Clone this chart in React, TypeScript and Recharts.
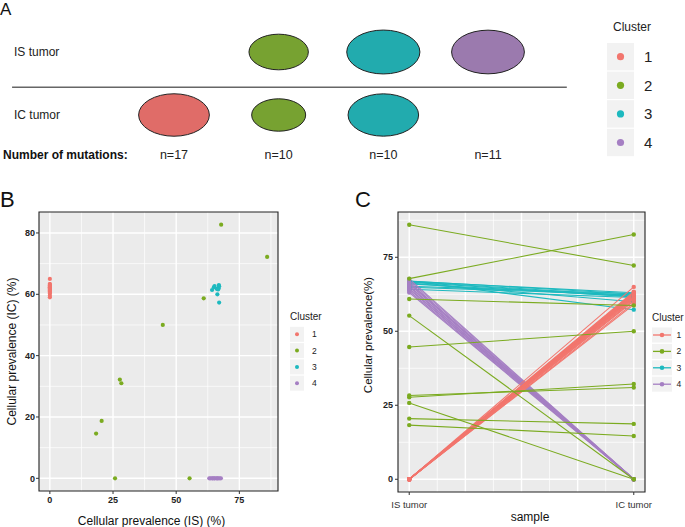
import React from 'react';
import {
  ScatterChart,
  Scatter,
  LineChart,
  Line,
  XAxis,
  YAxis,
  CartesianGrid,
  ReferenceLine,
  ReferenceArea,
  Legend,
} from 'recharts';

const FONT = '"Liberation Sans", Arial, Helvetica, sans-serif';

const CLUSTERS = ['1', '2', '3', '4'];
const SAMPLES = ['IS tumor', 'IC tumor'];
const COLORS = ['#F2766E', '#7BAB20', '#1DB9BF', '#A57FC3'];
const FILLS = ['#E06C68', '#77A231', '#22ABAE', '#9B7AAE'];

// cellular prevalence (%) of every mutation in the IS and the IC tumor, per cluster
const C1_IS = [0, 0, 0, 0, 0, 0, 0, 0, 0, 0, 0, 0, 0, 0, 0, 0, 0];
const C1_IC = [65.0, 63.4, 63.1, 62.9, 62.7, 62.5, 62.3, 62.1, 61.9, 61.7, 61.5, 61.2, 60.9, 60.5, 60.2, 59.5, 59.0];
const C2_IS = [86.0, 67.8, 60.9, 55.3, 44.7, 27.7, 28.3, 25.8, 20.5, 18.3];
const C2_IC = [72.2, 82.7, 58.7, 0, 50.0, 32.2, 31.0, 0, 18.7, 14.6];
const C3_IS = [64.2, 64.9, 65.2, 66.9, 67.0, 66.8, 66.6, 66.3, 67.0, 66.0];
const C3_IC = [61.4, 62.3, 62.7, 63.0, 62.6, 62.0, 61.6, 60.0, 57.3, 61.8];
const C4_IS = [63.1, 63.6, 64.2, 64.5, 65.0, 65.3, 65.9, 66.3, 66.6, 67.2, 67.7];
const C4_IC = [0, 0, 0, 0, 0, 0, 0, 0, 0, 0, 0];

const IS_BY_CLUSTER = [C1_IS, C2_IS, C3_IS, C4_IS];
const IC_BY_CLUSTER = [C1_IC, C2_IC, C3_IC, C4_IC];

const B_X_TICKS = [0, 25, 50, 75];
const B_Y_TICKS = [0, 20, 40, 60, 80];
const C_Y_TICKS = [0, 25, 50, 75];

// ---- derived ----
const mean = (a: number[]) => a.reduce((s, v) => s + v, 0) / a.length;
const expand = (lo: number, hi: number): [number, number] => [lo - (hi - lo) * 0.05, hi + (hi - lo) * 0.05];
const mids = (t: number[]) => {
  const step = t[1] - t[0];
  return t.map((v) => v + step / 2);
};

const POINTS = IS_BY_CLUSTER.map((isArr, ci) => isArr.map((is, k) => ({ is, ic: IC_BY_CLUSTER[ci][k] })));
const COUNTS = IS_BY_CLUSTER.map((a) => a.length);

const ELLIPSES: { col: number; row: number; mean: number; ci: number }[] = [];
CLUSTERS.forEach((_, ci) => {
  [IS_BY_CLUSTER[ci], IC_BY_CLUSTER[ci]].forEach((arr, si) => {
    const m = mean(arr);
    if (m > 0) ELLIPSES.push({ col: ci + 1, row: si === 0 ? 1 : 0, mean: m, ci });
  });
});

const ALL_IS = IS_BY_CLUSTER.flat();
const ALL_IC = IC_BY_CLUSTER.flat();
const B_X_DOMAIN = expand(0, Math.max(...ALL_IS));
const B_Y_DOMAIN = expand(0, Math.max(...ALL_IC));
const C_Y_DOMAIN = expand(0, Math.max(...ALL_IS, ...ALL_IC));
const C_X_DOMAIN = expand(1, 2);

const DRAW_ORDER = [2, 3, 0, 1];
const MUTATIONS = DRAW_ORDER.flatMap((ci) => POINTS[ci].map((p) => ({ ...p, ci })));
const LINE_ROWS = SAMPLES.map((_, si) => {
  const row: Record<string, number> = { x: si + 1 };
  MUTATIONS.forEach((m, i) => {
    row[`m${i}`] = si === 0 ? m.is : m.ic;
  });
  return row;
});

type LegendOpts = {
  titleX: number;
  titleY: number;
  titleSize: number;
  titleAnchor: 'start' | 'middle';
  keyX: number;
  keyY: number;
  keyW: number;
  keyH: number;
  step: number;
  dotR: number;
  labelX: number;
  labelSize: number;
  withLine?: boolean;
};

function ClusterLegend(o: LegendOpts) {
  return (
    <svg width={110} height={170} style={{ overflow: 'visible', display: 'block' }}>
      <text x={o.titleX} y={o.titleY} fontSize={o.titleSize} textAnchor={o.titleAnchor} fill="#222">
        Cluster
      </text>
      {CLUSTERS.map((c, i) => {
        const top = o.keyY + i * o.step;
        const cy = top + o.keyH / 2;
        const cx = o.keyX + o.keyW / 2;
        return (
          <g key={c}>
            <rect x={o.keyX} y={top} width={o.keyW} height={o.keyH} fill="#F2F2F2" />
            {o.withLine && <line x1={o.keyX + 1} x2={o.keyX + o.keyW - 1} y1={cy} y2={cy} stroke={COLORS[i]} strokeWidth={1.3} />}
            <circle cx={cx} cy={cy} r={o.dotR} fill={COLORS[i]} />
            <text x={o.labelX} y={cy + o.labelSize * 0.36} fontSize={o.labelSize} fill="#222">
              {c}
            </text>
          </g>
        );
      })}
    </svg>
  );
}

const RowTick = (props: any) => (
  <text x={14} y={props.y} dy={4.3} fontSize={12} fill="#222">
    {SAMPLES[1 - props.payload.value]}
  </text>
);

const tickNum = { fontSize: 9, fontWeight: 700, fill: '#222' };
const letter: React.CSSProperties = { position: 'absolute', lineHeight: 1, color: '#111' };

export default function App() {
  return (
    <div style={{ position: 'relative', width: 685, height: 527, overflow: 'hidden', background: '#fff', fontFamily: FONT }}>
      <style>{'body{margin:0}'}</style>

      {/* A: cluster presence per tumor */}
      <div style={{ position: 'absolute', left: 0, top: 0 }}>
        <ScatterChart width={685} height={175} margin={{ top: 0, right: 0, bottom: 0, left: 0 }}>
          <XAxis
            type="number"
            dataKey="col"
            domain={[-0.6528, 5.8822]}
            ticks={[1, 2, 3, 4]}
            tickFormatter={(v) => `n=${COUNTS[v - 1]}`}
            interval={0}
            axisLine={false}
            tickLine={false}
            tickSize={0}
            tickMargin={15.5}
            height={40}
            tick={{ fontSize: 12.5, fill: '#222' }}
            label={{ value: 'Number of mutations:', position: 'insideLeft', offset: 2, fontSize: 12, fontWeight: 700, fill: '#111' }}
          />
          <YAxis
            type="number"
            dataKey="row"
            domain={[-0.3175, 1.8254]}
            ticks={[0, 1]}
            interval={0}
            width={1}
            axisLine={false}
            tickLine={false}
            tick={RowTick}
          />
          <ReferenceLine
            segment={[
              { x: -0.547, y: 0.44 },
              { x: 4.753, y: 0.44 },
            ]}
            stroke="#666"
            strokeWidth={1.6}
          />
          <Scatter
            data={ELLIPSES}
            isAnimationActive={false}
            shape={(p: any) => {
              const rx = 4.5 * Math.sqrt(p.payload.mean);
              return <ellipse cx={p.cx} cy={p.cy} rx={rx} ry={rx * 0.6} fill={FILLS[p.payload.ci]} stroke="#222" strokeWidth={1} />;
            }}
          />
          <Legend
            layout="vertical"
            align="center"
            verticalAlign="middle"
            wrapperStyle={{ left: 600, top: 10, width: 110, height: 170 }}
            content={() => (
              <ClusterLegend
                titleX={32}
                titleY={21.3}
                titleSize={12}
                titleAnchor="middle"
                keyX={7}
                keyY={33}
                keyW={27}
                keyH={27.4}
                step={28.6}
                dotR={3.6}
                labelX={44}
                labelSize={15}
              />
            )}
          />
        </ScatterChart>
      </div>

      {/* B: IS vs IC scatter */}
      <div style={{ position: 'absolute', left: 0, top: 180 }}>
        <ScatterChart width={340} height={347} margin={{ top: 32, right: 62, bottom: 0, left: 0 }}>
          <CartesianGrid fill="#EBEBEB" fillOpacity={1} stroke="#fff" strokeWidth={0.7} verticalValues={mids(B_X_TICKS)} horizontalValues={mids(B_Y_TICKS)} />
          <CartesianGrid stroke="#fff" strokeWidth={1.4} verticalValues={B_X_TICKS} horizontalValues={B_Y_TICKS} />
          <XAxis
            type="number"
            dataKey="is"
            domain={B_X_DOMAIN}
            ticks={B_X_TICKS}
            interval={0}
            height={36}
            axisLine={false}
            tickLine={{ stroke: '#333' }}
            tickSize={3}
            tickMargin={3}
            tick={tickNum}
            label={{ value: 'Cellular prevalence (IS) (%)', position: 'insideBottom', offset: 2.5, dx: -7, fontSize: 12, fill: '#111' }}
          />
          <YAxis
            type="number"
            dataKey="ic"
            domain={B_Y_DOMAIN}
            ticks={B_Y_TICKS}
            interval={0}
            width={39}
            axisLine={false}
            tickLine={{ stroke: '#333' }}
            tickSize={3}
            tickMargin={1}
            tick={tickNum}
            label={{ value: 'Cellular prevalence (IC) (%)', angle: -90, position: 'insideLeft', offset: 12, fontSize: 12, fill: '#111', style: { textAnchor: 'middle' } }}
          />
          {POINTS.map((pts, ci) => (
            <Scatter
              key={ci}
              data={pts}
              isAnimationActive={false}
              shape={(p: any) => <circle cx={p.cx} cy={p.cy} r={2.1} fill={COLORS[ci]} />}
            />
          ))}
          <ReferenceArea x1={B_X_DOMAIN[0]} x2={B_X_DOMAIN[1]} y1={B_Y_DOMAIN[0]} y2={B_Y_DOMAIN[1]} fill="none" stroke="#222" strokeWidth={1.1} ifOverflow="visible" />
          <Legend
            layout="vertical"
            align="center"
            verticalAlign="middle"
            wrapperStyle={{ left: 285, top: 120, width: 110, height: 120 }}
            content={() => (
              <ClusterLegend
                titleX={5}
                titleY={19.6}
                titleSize={10}
                titleAnchor="start"
                keyX={5}
                keyY={26.8}
                keyW={14}
                keyH={15}
                step={16.3}
                dotR={2}
                labelX={27}
                labelSize={8.5}
              />
            )}
          />
        </ScatterChart>
      </div>

      {/* C: prevalence change IS -> IC */}
      <div style={{ position: 'absolute', left: 340, top: 180 }}>
        <LineChart width={345} height={347} data={LINE_ROWS} margin={{ top: 32, right: 40, bottom: 0, left: 0 }}>
          <CartesianGrid fill="#EBEBEB" fillOpacity={1} stroke="#fff" strokeWidth={0.7} verticalValues={[1.125, 1.375, 1.625, 1.875]} horizontalValues={mids(C_Y_TICKS)} />
          <CartesianGrid stroke="#fff" strokeWidth={1.4} verticalValues={[1, 1.25, 1.5, 1.75, 2]} horizontalValues={C_Y_TICKS} />
          <XAxis
            type="number"
            dataKey="x"
            domain={C_X_DOMAIN}
            ticks={[1, 2]}
            tickFormatter={(v) => SAMPLES[v - 1]}
            interval={0}
            height={35}
            axisLine={false}
            tickLine={{ stroke: '#333' }}
            tickSize={3}
            tickMargin={6.5}
            tick={{ fontSize: 9.5, fill: '#333' }}
            label={{ value: 'sample', position: 'insideBottom', offset: 5.7, dx: 8.5, fontSize: 12, fill: '#111' }}
          />
          <YAxis
            type="number"
            domain={C_Y_DOMAIN}
            ticks={C_Y_TICKS}
            interval={0}
            width={58}
            axisLine={false}
            tickLine={{ stroke: '#333' }}
            tickSize={3}
            tickMargin={2}
            tick={tickNum}
            label={{ value: 'Cellular prevalence(%)', angle: -90, position: 'insideLeft', offset: 28, dy: -17, fontSize: 11.5, fill: '#111', style: { textAnchor: 'middle' } }}
          />
          {MUTATIONS.map((m, i) => (
            <Line
              key={i}
              type="linear"
              dataKey={`m${i}`}
              stroke={COLORS[m.ci]}
              strokeWidth={1.1}
              dot={{ r: 2.2, fill: COLORS[m.ci], stroke: 'none' }}
              activeDot={false}
              isAnimationActive={false}
            />
          ))}
          <ReferenceArea x1={C_X_DOMAIN[0]} x2={C_X_DOMAIN[1]} y1={C_Y_DOMAIN[0]} y2={C_Y_DOMAIN[1]} fill="none" stroke="#222" strokeWidth={1.1} ifOverflow="visible" />
          <Legend
            layout="vertical"
            align="center"
            verticalAlign="middle"
            wrapperStyle={{ left: 307, top: 120, width: 110, height: 120 }}
            content={() => (
              <ClusterLegend
                titleX={5}
                titleY={20.6}
                titleSize={10}
                titleAnchor="start"
                keyX={5}
                keyY={27.5}
                keyW={20}
                keyH={15}
                step={16.4}
                dotR={2.3}
                labelX={29.5}
                labelSize={8.5}
                withLine
              />
            )}
          />
        </LineChart>
      </div>

      <div style={{ ...letter, left: 0, top: 1, fontSize: 17 }}>A</div>
      <div style={{ ...letter, left: 0, top: 189, fontSize: 22 }}>B</div>
      <div style={{ ...letter, left: 355, top: 189, fontSize: 22 }}>C</div>
    </div>
  );
}
